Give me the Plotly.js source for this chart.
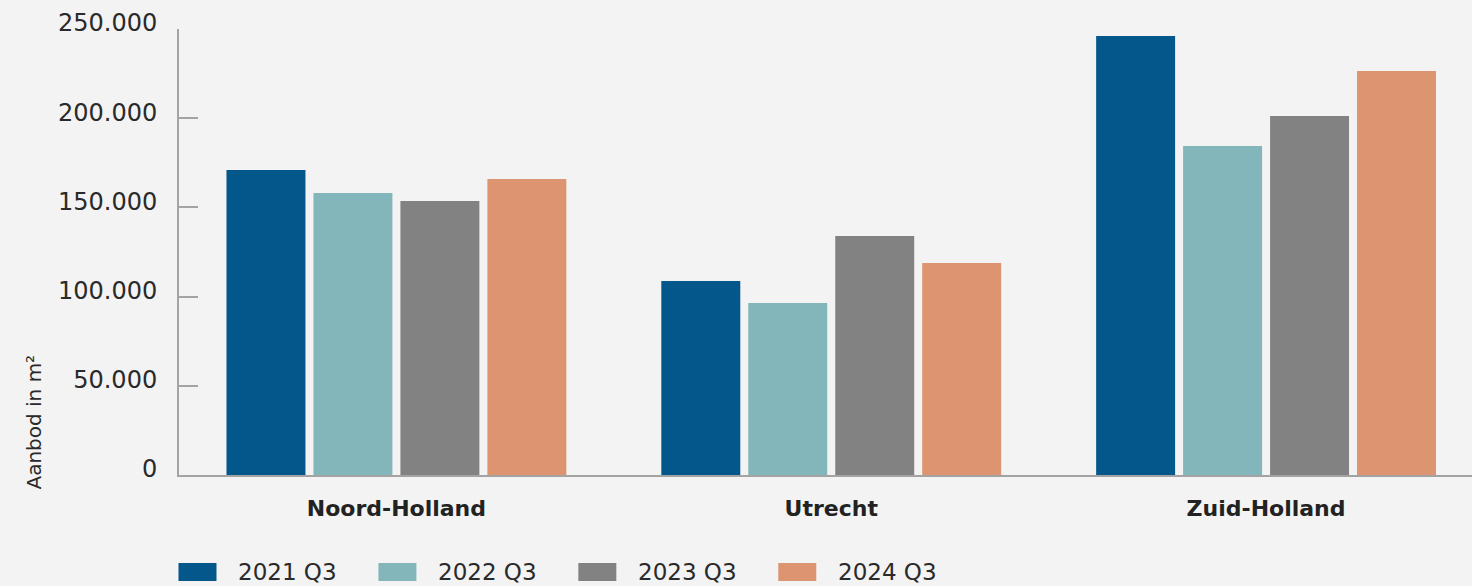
<!DOCTYPE html>
<html>
<head>
<meta charset="utf-8">
<script src="https://cdn.plot.ly/plotly-3.0.1.min.js"></script>
<style>
html,body{margin:0;padding:0;background:#f3f3f3;}
#chart{width:1472px;height:586px;}
</style>
</head>
<body>
<div id="chart"></div>
<script>
const categories = ["Noord-Holland", "Utrecht", "Zuid-Holland"];
const seriesNames = ["2021 Q3", "2022 Q3", "2023 Q3", "2024 Q3"];
const v2021 = [171000, 108700, 246100];
const v2022 = [158100, 96400, 184400];
const v2023 = [153600, 134000, 201200];
const v2024 = [165900, 118800, 226500];
const colors = ["#03578b", "#82b6bb", "#828282", "#dc9570"];
const yTickVals = [0, 50000, 100000, 150000, 200000, 250000];
const yTickText = ["0", "50.000", "100.000", "150.000", "200.000", "250.000"];
const yTitle = "Aanbod in m²";

const FONT = "'DejaVu Sans', sans-serif";
const seriesValues = [v2021, v2022, v2023, v2024];
const catLabels = categories.map(c => "<b>" + c + "</b>");

const traces = seriesValues.map((vals, i) => ({
  type: "bar",
  name: seriesNames[i],
  x: catLabels,
  y: vals,
  marker: {color: colors[i]},
  hoverinfo: "skip",
  showlegend: false
}));

// plot geometry in pixels
const L = 178.5, R = 1472, T = 29, B = 475;
const W = R - L, H = B - T;
const px2x = p => (p - L) / W;
const px2y = p => (B - p) / H;

const shapes = [];
const annotations = [];
seriesNames.forEach((n, i) => {
  const sx = 178 + i * 200;
  shapes.push({
    type: "rect", xref: "paper", yref: "paper",
    x0: px2x(sx), x1: px2x(sx + 38),
    y0: px2y(581), y1: px2y(563),
    fillcolor: colors[i], line: {width: 0}
  });
  annotations.push({
    xref: "paper", yref: "paper",
    x: px2x(sx + 58), y: px2y(572),
    xanchor: "left", yanchor: "middle",
    text: n, showarrow: false,
    font: {family: FONT, size: 23, color: "#2a2a2a"}
  });
});
annotations.push({
  xref: "paper", yref: "paper",
  x: px2x(33), y: px2y(422),
  xanchor: "center", yanchor: "middle",
  textangle: -90, text: yTitle, showarrow: false,
  font: {family: FONT, size: 20, color: "#2a2a2a"}
});

const layout = {
  width: 1472, height: 586,
  paper_bgcolor: "#f3f3f3", plot_bgcolor: "#f3f3f3",
  margin: {l: L, r: 0, t: T, b: 586 - B, pad: 0},
  barmode: "group",
  bargap: 0.2,
  bargroupgap: 0.092,
  showlegend: false,
  font: {family: FONT, size: 22, color: "#2a2a2a"},
  xaxis: {
    type: "category",
    range: [-0.5, 2.4736],
    showgrid: false, zeroline: false,
    showline: true, linecolor: "#a3a3a3", linewidth: 2,
    ticks: "", ticklabelstandoff: 13,
    tickfont: {family: FONT, size: 22, color: "#222222"},
    fixedrange: true
  },
  yaxis: {
    range: [0, 250000],
    showgrid: false, zeroline: false,
    showline: true, linecolor: "#a3a3a3", linewidth: 2,
    ticks: "inside", ticklen: 19, tickwidth: 2, tickcolor: "#a3a3a3",
    tickvals: yTickVals, ticktext: yTickText,
    ticklabelstandoff: 15,
    ticklabelshift: -6,
    tickfont: {family: FONT, size: 24, color: "#2a2a2a"},
    fixedrange: true
  },
  shapes: shapes,
  annotations: annotations
};

Plotly.newPlot("chart", traces, layout, {displayModeBar: false, staticPlot: true});
</script>
</body>
</html>
